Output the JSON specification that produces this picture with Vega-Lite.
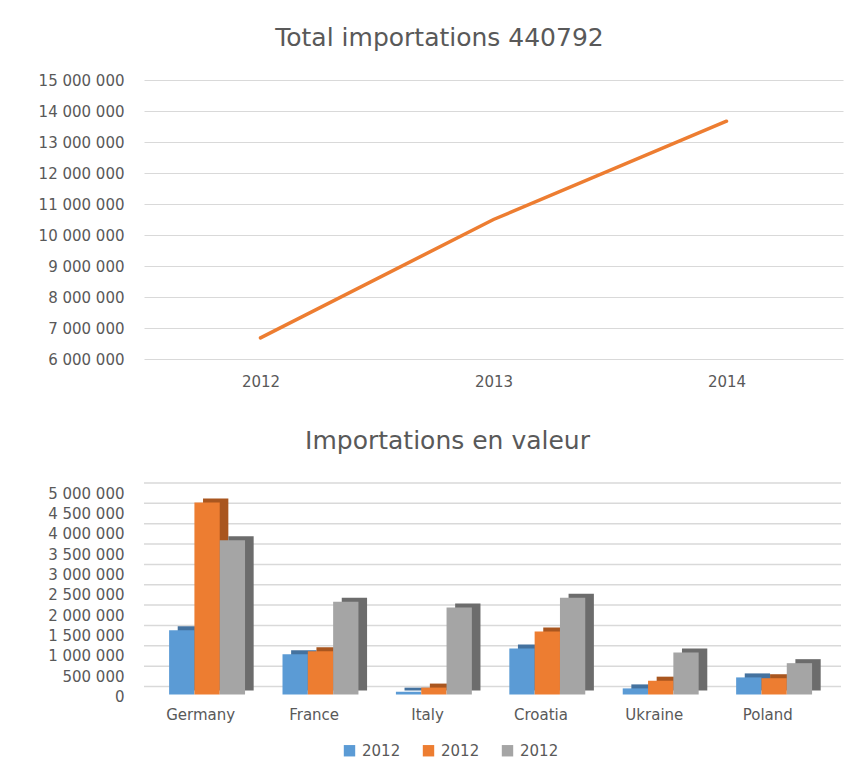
{
  "$schema": "https://vega.github.io/schema/vega-lite/v6.json",
  "background": "white",
  "padding": {"left": 38, "top": 26, "right": 5, "bottom": 5},
  "spacing": 40,
  "config": {
    "locale": {"number": {"decimal": ",", "thousands": " ", "grouping": [3], "currency": ["", " €"]}},
    "view": {"stroke": null},
    "font": "DejaVu Sans",
    "axis": {"labelFont": "DejaVu Sans", "labelFontSize": 15, "labelColor": "#595959", "gridColor": "#d9d9d9", "gridWidth": 1, "domain": false, "ticks": false, "title": null},
    "title": {"font": "DejaVu Sans", "fontSize": 25, "fontWeight": "normal", "color": "#595959"}
  },
  "vconcat": [
    {
      "title": {"text": "Total importations 440792", "anchor": "middle", "frame": "group", "dx": -54, "offset": 22},
      "width": 699,
      "height": 279,
      "data": {"values": [
        {"year": "2012", "total": 6680000},
        {"year": "2013", "total": 10500000},
        {"year": "2014", "total": 13670000}
      ]},
      "mark": {"type": "line", "color": "#ED7D31", "strokeWidth": 3.5, "strokeCap": "round"},
      "encoding": {
        "x": {"field": "year", "type": "ordinal", "scale": {"type": "point", "padding": 0.5}, "axis": {"labelAngle": 0, "grid": false, "labelPadding": 15}},
        "y": {"field": "total", "type": "quantitative", "scale": {"domain": [6000000, 15000000], "nice": false, "zero": false},
              "axis": {"values": [6000000, 7000000, 8000000, 9000000, 10000000, 11000000, 12000000, 13000000, 14000000, 15000000], "format": ",d", "labelPadding": 20, "grid": true}}
      }
    },
    {
      "title": {"text": "Importations en valeur", "anchor": "middle", "frame": "group", "dx": -45, "offset": 28},
      "width": 697,
      "height": 203.5,
      "layer": [
        {
          "data": {"values": [{"g": 0}, {"g": 500000}, {"g": 1000000}, {"g": 1500000}, {"g": 2000000}, {"g": 2500000}, {"g": 3000000}, {"g": 3500000}, {"g": 4000000}, {"g": 4500000}, {"g": 5000000}]},
          "mark": {"type": "rule", "color": "#d9d9d9", "strokeWidth": 1.5, "yOffset": -8},
          "encoding": {
            "y": {"field": "g", "type": "quantitative", "scale": {"domain": [0, 5000000], "nice": false},
                  "axis": {"values": [0, 500000, 1000000, 1500000, 2000000, 2500000, 3000000, 3500000, 4000000, 4500000, 5000000], "format": ",d", "labelPadding": 20, "grid": false, "labelOffset": 2}}
          }
        },
        {
          "data": {"name": "bars"},
          "mark": {"type": "bar", "yOffset": -4, "y2Offset": -4},
          "encoding": {
            "x": {"field": "country", "type": "nominal", "sort": ["Germany", "France", "Italy", "Croatia", "Ukraine", "Poland"], "scale": {"paddingInner": 0, "paddingOuter": 0.073, "align": 0}, "axis": {"labelAngle": 0, "labelPadding": 13, "grid": false}},
            "xOffset": {"field": "series", "type": "nominal", "scale": {"paddingInner": 0, "paddingOuter": 0.74, "align": 0.9}},
            "y": {"field": "value", "type": "quantitative",
                  "axis": {"values": [0, 500000, 1000000, 1500000, 2000000, 2500000, 3000000, 3500000, 4000000, 4500000, 5000000], "format": ",d", "labelPadding": 20, "grid": false, "labelOffset": 2}},
            "fill": {"field": "series", "type": "nominal", "scale": {"range": ["#44729f", "#a9561f", "#6c6c6c"]}, "legend": null}
          }
        },
        {
          "data": {"name": "bars"},
          "mark": {"type": "bar"},
          "encoding": {
            "x": {"field": "country", "type": "nominal", "sort": ["Germany", "France", "Italy", "Croatia", "Ukraine", "Poland"], "scale": {"paddingInner": 0, "paddingOuter": 0.073, "align": 0}, "axis": {"labelAngle": 0, "labelPadding": 13, "grid": false}},
            "xOffset": {"field": "series", "type": "nominal", "scale": {"paddingInner": 0, "paddingOuter": 0.74, "align": 0.67}},
            "y": {"field": "value", "type": "quantitative",
                  "axis": {"values": [0, 500000, 1000000, 1500000, 2000000, 2500000, 3000000, 3500000, 4000000, 4500000, 5000000], "format": ",d", "labelPadding": 20, "grid": false, "labelOffset": 2}},
            "color": {"field": "series", "type": "nominal", "scale": {"domain": ["s1", "s2", "s3"], "range": ["#5B9BD5", "#ED7D31", "#A5A5A5"]},
                      "legend": {"title": null, "orient": "none", "direction": "horizontal", "legendX": 198, "legendY": 663, "labelExpr": "'2012'", "symbolType": "square", "symbolSize": 130, "symbolStrokeWidth": 0, "labelFontSize": 15, "labelFont": "DejaVu Sans", "labelColor": "#595959", "columnPadding": 20, "labelOffset": 5}}
          }
        }
      ],
      "resolve": {"scale": {"xOffset": "independent"}}
    }
  ],
  "datasets": {
    "bars": [
      {"country": "Germany", "series": "s1", "value": 1580000},
      {"country": "Germany", "series": "s2", "value": 4720000},
      {"country": "Germany", "series": "s3", "value": 3790000},
      {"country": "France", "series": "s1", "value": 990000},
      {"country": "France", "series": "s2", "value": 1060000},
      {"country": "France", "series": "s3", "value": 2280000},
      {"country": "Italy", "series": "s1", "value": 70000},
      {"country": "Italy", "series": "s2", "value": 170000},
      {"country": "Italy", "series": "s3", "value": 2140000},
      {"country": "Croatia", "series": "s1", "value": 1130000},
      {"country": "Croatia", "series": "s2", "value": 1550000},
      {"country": "Croatia", "series": "s3", "value": 2380000},
      {"country": "Ukraine", "series": "s1", "value": 150000},
      {"country": "Ukraine", "series": "s2", "value": 340000},
      {"country": "Ukraine", "series": "s3", "value": 1030000},
      {"country": "Poland", "series": "s1", "value": 420000},
      {"country": "Poland", "series": "s2", "value": 400000},
      {"country": "Poland", "series": "s3", "value": 770000}
    ]
  }
}
